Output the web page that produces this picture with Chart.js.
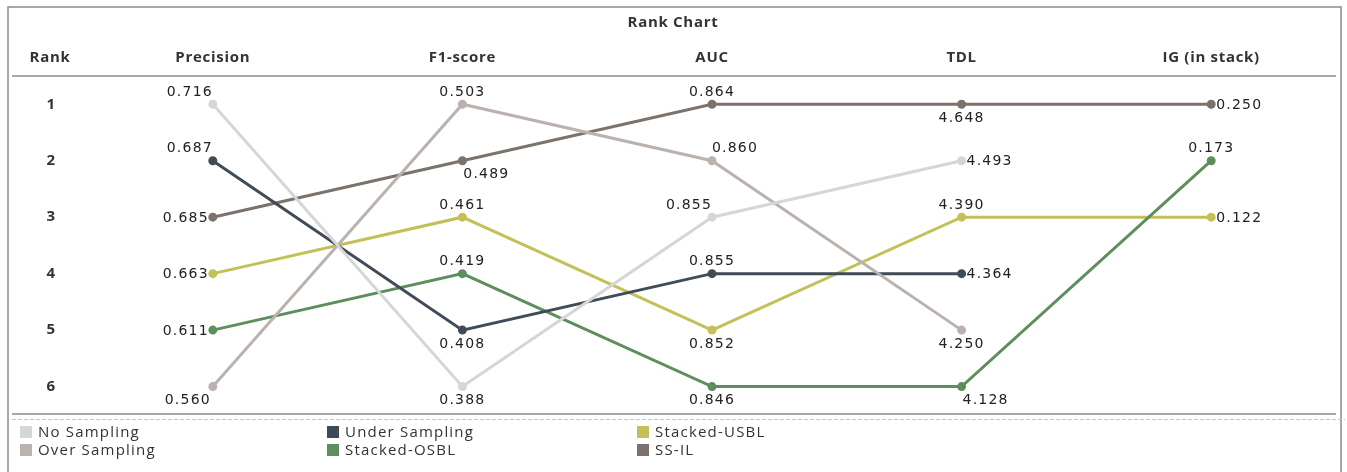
<!DOCTYPE html>
<html>
<head>
<meta charset="utf-8">
<script src="https://cdn.jsdelivr.net/npm/chart.js@4"></script>
<style>
  html, body { margin: 0; padding: 0; background: #fff; }
  #wrap { width: 1347px; height: 472px; position: relative; }
</style>
</head>
<body>
<div id="wrap"><canvas id="rankChart"></canvas></div>
<script>
// categories (columns) and rank rows
const metrics = ["Precision", "F1-score", "AUC", "TDL", "IG (in stack)"];
const rankTicks = [1, 2, 3, 4, 5, 6];

// rank of every method per metric (null = not ranked)
const noSamplingRank = [1, 6, 3, 2, null];
const underSamplingRank = [2, 5, 4, 4, null];
const overSamplingRank = [6, 1, 2, 5, null];
const stackedUsblRank = [4, 3, 5, 3, 3];
const stackedOsblRank = [5, 4, 6, 6, 2];
const ssIlRank = [3, 2, 1, 1, 1];

// metric values shown next to each point
const noSamplingValue = [0.716, 0.388, 0.855, 4.493, null];
const underSamplingValue = [0.687, 0.408, 0.855, 4.364, null];
const overSamplingValue = [0.560, 0.503, 0.860, 4.250, null];
const stackedUsblValue = [0.663, 0.461, 0.852, 4.390, 0.122];
const stackedOsblValue = [0.611, 0.419, 0.846, 4.128, 0.173];
const ssIlValue = [0.685, 0.489, 0.864, 4.648, 0.250];

// where each value label sits relative to its point
const labelSpots = {
  "No Sampling": ["al", "b", "al", "r", null],
  "Under Sampling": ["al", "b", "a", "r", null],
  "Over Sampling": ["bl", "a", "ar", "b", null],
  "Stacked-USBL": ["l", "a", "b", "a", "r"],
  "Stacked-OSBL": ["l", "a", "b", "br", "a"],
  "SS-IL": ["l", "br", "a", "b", "r"],
};

const series = [
  { label: "No Sampling", color: "#d6d6d6", ranks: noSamplingRank, values: noSamplingValue },
  { label: "Over Sampling", color: "#bbb2ae", ranks: overSamplingRank, values: overSamplingValue },
  { label: "Under Sampling", color: "#3f4b57", ranks: underSamplingRank, values: underSamplingValue },
  { label: "Stacked-OSBL", color: "#5e8e5d", ranks: stackedOsblRank, values: stackedOsblValue },
  { label: "Stacked-USBL", color: "#c3c058", ranks: stackedUsblRank, values: stackedUsblValue },
  { label: "SS-IL", color: "#7b726c", ranks: ssIlRank, values: ssIlValue },
];

// legend reads column by column
const legendOrder = ["No Sampling", "Over Sampling", "Under Sampling", "Stacked-OSBL", "Stacked-USBL", "SS-IL"];

const textColor = "#333333";
const headFont = "bold 15px 'Open Sans'";
const valueFont = "14px 'DejaVu Sans'";

const decorPlugin = {
  id: "decor",
  afterDraw(chart) {
    const { ctx, scales } = chart;
    const xs = scales.x;
    ctx.save();

    // outer frame
    ctx.strokeStyle = "#8c8c8c";
    ctx.lineWidth = 1.5;
    ctx.beginPath();
    ctx.moveTo(8, 472);
    ctx.lineTo(8, 7);
    ctx.lineTo(1341, 7);
    ctx.lineTo(1341, 472);
    ctx.stroke();

    // header rule + bottom rules
    ctx.beginPath();
    ctx.moveTo(12, 76);
    ctx.lineTo(1336, 76);
    ctx.moveTo(12, 414);
    ctx.lineTo(1336, 414);
    ctx.stroke();
    ctx.strokeStyle = "#b9c7d2";
    ctx.lineWidth = 1;
    ctx.setLineDash([4, 2]);
    ctx.beginPath();
    ctx.moveTo(12, 419.5);
    ctx.lineTo(1345, 419.5);
    ctx.stroke();
    ctx.setLineDash([]);

    // title and column headers
    ctx.fillStyle = textColor;
    ctx.font = headFont;
    ctx.letterSpacing = "0.7px";
    ctx.textAlign = "center";
    ctx.textBaseline = "middle";
    ctx.fillText("Rank Chart", 673, 23);
    ctx.fillText("Rank", 50, 58);
    metrics.forEach((m, i) => {
      ctx.fillText(m, xs.getPixelForValue(i), 58);
    });

    // legend
    ctx.font = "15px 'Open Sans'";
    ctx.letterSpacing = "1.2px";
    ctx.textAlign = "left";
    const colX = [20, 327, 637];
    const rowY = [432, 450];
    legendOrder.forEach((name, k) => {
      const s = series.find((d) => d.label === name);
      const x = colX[Math.floor(k / 2)];
      const y = rowY[k % 2];
      ctx.fillStyle = s.color;
      ctx.fillRect(x, y - 6, 12, 12);
      ctx.fillStyle = textColor;
      ctx.fillText(name, x + 18, y + 1);
    });
    ctx.restore();
  },
  afterDatasetsDraw(chart) {
    const { ctx } = chart;
    ctx.save();
    ctx.font = valueFont;
    ctx.letterSpacing = "1.2px";
    ctx.fillStyle = "#222";
    ctx.textBaseline = "middle";
    chart.data.datasets.forEach((ds, i) => {
      const meta = chart.getDatasetMeta(i);
      const spots = labelSpots[ds.label];
      meta.data.forEach((pt, j) => {
        const v = series[i].values[j];
        if (v === null || ds.data[j] === null) return;
        const txt = v.toFixed(3);
        const spot = spots[j];
        let x = pt.x;
        let y = pt.y;
        ctx.textAlign = "center";
        if (spot === "a") y -= 13;
        else if (spot === "b") y += 13;
        else if (spot === "al") { x -= 23; y -= 13; }
        else if (spot === "ar") { x += 23; y -= 13; }
        else if (spot === "bl") { x -= 25; y += 13; }
        else if (spot === "br") { x += 24; y += 13; }
        else if (spot === "l") { ctx.textAlign = "right"; x -= 4; }
        else if (spot === "r") { ctx.textAlign = "left"; x += 5; }
        ctx.fillText(txt, x, y + 1);
      });
    });
    ctx.restore();
  },
};

const rankChart = new Chart(document.getElementById("rankChart"), {
  type: "line",
  data: {
    labels: metrics,
    datasets: series.map((s) => ({
      label: s.label,
      data: s.ranks,
      borderColor: s.color,
      backgroundColor: s.color,
      borderWidth: 3,
      pointRadius: 3,
      pointHoverRadius: 3,
      tension: 0,
      spanGaps: false,
    })),
  },
  options: {
    responsive: true,
    maintainAspectRatio: false,
    animation: false,
    layout: {
      padding: { top: 76, bottom: 60, right: 11, left: 0 },
    },
    scales: {
      x: {
        type: "category",
        offset: true,
        display: false,
      },
      y: {
        type: "linear",
        reverse: true,
        min: 0.5,
        max: 6.45,
        grid: { display: false },
        border: { display: false },
        afterBuildTicks: (scale) => {
          scale.ticks = rankTicks.map((v) => ({ value: v }));
        },
        afterFit: (scale) => {
          scale.width = 88;
        },
        ticks: {
          padding: 25,
          crossAlign: "near",
          color: textColor,
          font: { family: "Open Sans", size: 15, weight: "bold" },
        },
      },
    },
    plugins: {
      legend: { display: false },
      tooltip: { enabled: false },
    },
  },
  plugins: [decorPlugin],
});
</script>
</body>
</html>
